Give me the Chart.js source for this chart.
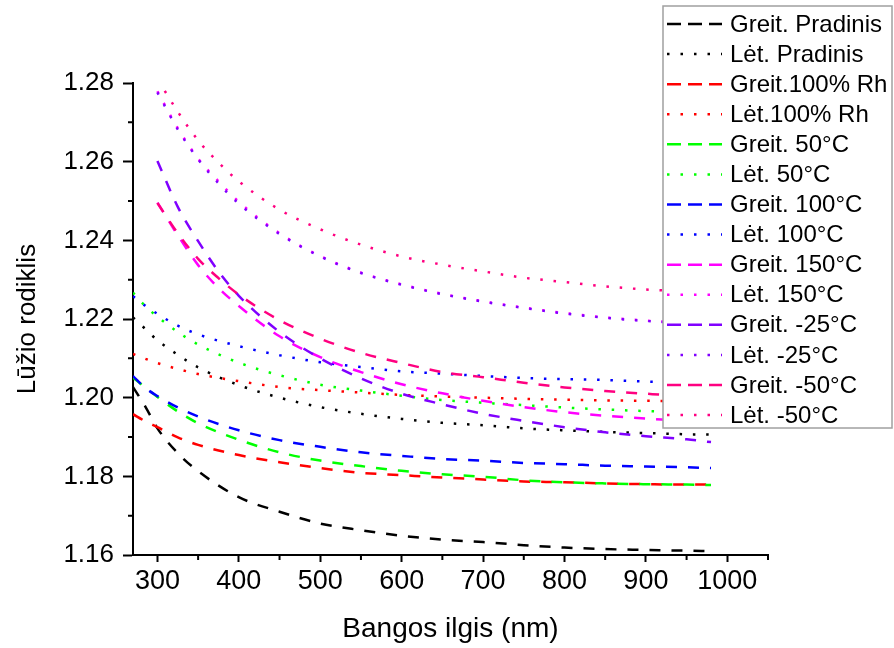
<!DOCTYPE html>
<html>
<head>
<meta charset="utf-8">
<script src="https://cdn.jsdelivr.net/npm/chart.js@4.4.1/dist/chart.umd.min.js"></script>
<style>
  html, body { margin: 0; padding: 0; background: #fff; }
  #wrap { width: 894px; height: 648px; }
</style>
</head>
<body>
<div id="wrap"><canvas id="chart" width="894" height="648"></canvas></div>
<script>
// wavelengths (nm)
const wlLong = [270, 285, 300, 325, 350, 400, 450, 500, 550, 600, 650, 700, 750, 800, 850, 900, 950, 980];
const wlShort = [300, 325, 350, 375, 400, 450, 500, 550, 600, 650, 700, 750, 800, 850, 900, 950, 980];
const wlLetM50 = [309, 325, 350, 375, 400, 450, 500, 550, 600, 650, 700, 750, 800, 850, 900, 950, 980];

// refractive index
const greitPradinis = [1.2027, 1.1978, 1.1922, 1.1859, 1.1813, 1.1747, 1.1710, 1.1680, 1.1663, 1.1649, 1.1639, 1.1633, 1.1625, 1.1619, 1.1615, 1.1613, 1.1611, 1.1610];
const letPradinis = [1.2204, 1.2175, 1.2146, 1.2109, 1.2077, 1.2032, 1.2000, 1.1976, 1.1959, 1.1946, 1.1936, 1.1930, 1.1922, 1.1917, 1.1913, 1.1910, 1.1907, 1.1906];
const greit100Rh = [1.1958, 1.1940, 1.1925, 1.1899, 1.1880, 1.1854, 1.1836, 1.1821, 1.1809, 1.1803, 1.1797, 1.1792, 1.1787, 1.1785, 1.1782, 1.1780, 1.1779, 1.1779];
const let100Rh = [1.2111, 1.2099, 1.2088, 1.2073, 1.2060, 1.2042, 1.2027, 1.2019, 1.2013, 1.2007, 1.2003, 1.2000, 1.1997, 1.1995, 1.1993, 1.1992, 1.1991, 1.1990];
const greit50 = [1.2051, 1.2026, 1.2002, 1.1965, 1.1935, 1.1893, 1.1861, 1.1840, 1.1826, 1.1814, 1.1805, 1.1799, 1.1790, 1.1785, 1.1782, 1.1780, 1.1779, 1.1778];
const let50 = [1.2267, 1.2233, 1.2206, 1.2167, 1.2135, 1.2089, 1.2057, 1.2033, 1.2018, 1.2005, 1.1994, 1.1987, 1.1981, 1.1975, 1.1970, 1.1966, 1.1964, 1.1963];
const greit100 = [1.2055, 1.2025, 1.2004, 1.1975, 1.1952, 1.1917, 1.1892, 1.1875, 1.1861, 1.1852, 1.1844, 1.1840, 1.1834, 1.1831, 1.1827, 1.1825, 1.1823, 1.1821];
const let100 = [1.2258, 1.2234, 1.2213, 1.2183, 1.2161, 1.2131, 1.2108, 1.2090, 1.2078, 1.2067, 1.2061, 1.2055, 1.2050, 1.2047, 1.2045, 1.2041, 1.2039, 1.2038];
const greit150 = [1.2496, 1.2413, 1.2337, 1.2279, 1.2233, 1.2156, 1.2103, 1.2065, 1.2034, 1.2011, 1.1992, 1.1976, 1.1963, 1.1954, 1.1947, 1.1941, 1.1939];
const let150 = [1.2779, 1.2685, 1.2608, 1.2550, 1.2498, 1.2418, 1.2360, 1.2318, 1.2288, 1.2264, 1.2245, 1.2229, 1.2215, 1.2204, 1.2196, 1.2190, 1.2187];
const greitM25 = [1.2602, 1.2485, 1.2398, 1.2321, 1.2259, 1.2167, 1.2100, 1.2049, 1.2010, 1.1983, 1.1959, 1.1941, 1.1925, 1.1912, 1.1902, 1.1894, 1.1887];
const letM25 = [1.2776, 1.2682, 1.2606, 1.2545, 1.2493, 1.2416, 1.2359, 1.2317, 1.2287, 1.2263, 1.2244, 1.2228, 1.2214, 1.2203, 1.2195, 1.2189, 1.2186];
const greitM50 = [1.2495, 1.2418, 1.2353, 1.2304, 1.2262, 1.2197, 1.2150, 1.2114, 1.2088, 1.2065, 1.2052, 1.2038, 1.2026, 1.2017, 1.2010, 1.2004, 1.2002];
const letM50 = [1.2780, 1.2727, 1.2654, 1.2598, 1.2550, 1.2478, 1.2428, 1.2389, 1.2359, 1.2338, 1.2321, 1.2305, 1.2294, 1.2283, 1.2275, 1.2270, 1.2267];

const seriesLabels = [
    "Greit. Pradinis", "Lėt. Pradinis", "Greit.100% Rh", "Lėt.100% Rh",
    "Greit. 50°C", "Lėt. 50°C", "Greit. 100°C", "Lėt. 100°C",
    "Greit. 150°C", "Lėt. 150°C", "Greit. -25°C", "Lėt. -25°C",
    "Greit. -50°C", "Lėt. -50°C",
];
const seriesValues = [
    greitPradinis, letPradinis, greit100Rh, let100Rh, greit50, let50, greit100, let100,
    greit150, let150, greitM25, letM25, greitM50, letM50,
];
const seriesWl = [
    wlLong, wlLong, wlLong, wlLong, wlLong, wlLong, wlLong, wlLong,
    wlShort, wlShort, wlShort, wlShort, wlShort, wlLetM50,
];
const seriesColors = [
    "#000000", "#000000", "#ff0000", "#ff0000", "#00ff00", "#00ff00", "#0000ff", "#0000ff",
    "#ff00ff", "#ff00ff", "#8000ff", "#8000ff", "#ff0080", "#ff0080",
];

const xTicks = [300, 400, 500, 600, 700, 800, 900, 1000];
const xMinor = [350, 450, 550, 650, 750, 850, 950, 1050];
const yTicks = [1.16, 1.18, 1.20, 1.22, 1.24, 1.26, 1.28];
const yMinor = [1.17, 1.19, 1.21, 1.23, 1.25, 1.27];

const FONT = "'Liberation Sans', Arial, sans-serif";
const DASH = [11, 11];
const DOT = [2.5, 10.8];

const datasets = seriesLabels.map((label, i) => ({
    label: label,
    data: seriesWl[i].map((x, j) => ({ x: x, y: seriesValues[i][j] })),
    borderColor: seriesColors[i],
    borderWidth: 2.5,
    borderDash: i % 2 === 0 ? DASH : DOT,
    pointRadius: 0,
    fill: false,
    cubicInterpolationMode: "monotone",
    order: 14 - i,
}));

// minor ticks + boxed legend sitting over the plot
const extras = {
    id: "extras",
    afterDraw(chart) {
        const ctx = chart.ctx;
        const xs = chart.scales.x;
        const ys = chart.scales.y;
        ctx.save();
        ctx.strokeStyle = "#000";
        ctx.lineWidth = 2;
        ctx.beginPath();
        xMinor.forEach((v) => {
            const px = xs.getPixelForValue(v);
            ctx.moveTo(px, ys.bottom);
            ctx.lineTo(px, ys.bottom + 5);
        });
        yMinor.forEach((v) => {
            const py = ys.getPixelForValue(v);
            ctx.moveTo(xs.left, py);
            ctx.lineTo(xs.left - 5, py);
        });
        ctx.stroke();

        // legend
        ctx.fillStyle = "#fff";
        ctx.fillRect(663, 6, 229, 422);
        ctx.strokeStyle = "#a0a0a0";
        ctx.lineWidth = 1.5;
        ctx.strokeRect(663, 6, 229, 422);
        ctx.font = "24px " + FONT;
        ctx.textBaseline = "middle";
        ctx.textAlign = "left";
        chart.data.datasets.forEach((ds, i) => {
            const y = 24 + 30.08 * i;
            ctx.strokeStyle = ds.borderColor;
            ctx.lineWidth = 2.5;
            ctx.setLineDash(i % 2 === 0 ? [14, 7] : [2.5, 11]);
            ctx.beginPath();
            ctx.moveTo(667, y);
            ctx.lineTo(722, y);
            ctx.stroke();
            ctx.setLineDash([]);
            ctx.fillStyle = "#000";
            ctx.fillText(ds.label, 730, y + 1);
        });
        ctx.restore();
    },
};

const chart = new Chart(document.getElementById("chart"), {
    type: "line",
    data: { datasets: datasets },
    options: {
        responsive: false,
        animation: false,
        layout: { padding: { top: 83, right: 126, bottom: 0, left: 0 } },
        plugins: {
            legend: { display: false },
            tooltip: { enabled: false },
        },
        scales: {
            x: {
                type: "linear",
                min: 270,
                max: 1050,
                afterBuildTicks: (s) => {
                    s.ticks = xTicks.map((v) => ({ value: v }));
                },
                afterFit: (s) => {
                    s.height = 93;
                },
                ticks: {
                    color: "#000",
                    font: { size: 27, family: FONT },
                    padding: 3,
                    maxRotation: 0,
                    autoSkip: false,
                    callback: (v) => String(v),
                },
                grid: {
                    display: true,
                    drawOnChartArea: false,
                    drawTicks: true,
                    tickLength: 7,
                    tickWidth: 2,
                    tickColor: "#000",
                },
                border: { display: true, color: "#000", width: 2 },
                title: {
                    display: true,
                    text: "Bangos ilgis (nm)",
                    color: "#000",
                    font: { size: 28, family: FONT },
                    padding: { top: 0, bottom: 2 },
                },
            },
            y: {
                type: "linear",
                min: 1.16,
                max: 1.28,
                afterBuildTicks: (s) => {
                    s.ticks = yTicks.map((v) => ({ value: v }));
                },
                afterFit: (s) => {
                    s.width = 133;
                },
                ticks: {
                    color: "#000",
                    font: { size: 26, family: FONT },
                    padding: 9,
                    callback: (v) => Number(v).toFixed(2),
                },
                grid: {
                    display: true,
                    drawOnChartArea: false,
                    drawTicks: true,
                    tickLength: 10,
                    tickWidth: 2,
                    tickColor: "#000",
                },
                border: { display: true, color: "#000", width: 2 },
                title: {
                    display: true,
                    text: "Lūžio rodiklis",
                    color: "#000",
                    font: { size: 26, family: FONT },
                    padding: { top: 12, bottom: 0 },
                },
            },
        },
    },
    plugins: [extras],
});
</script>
</body>
</html>
